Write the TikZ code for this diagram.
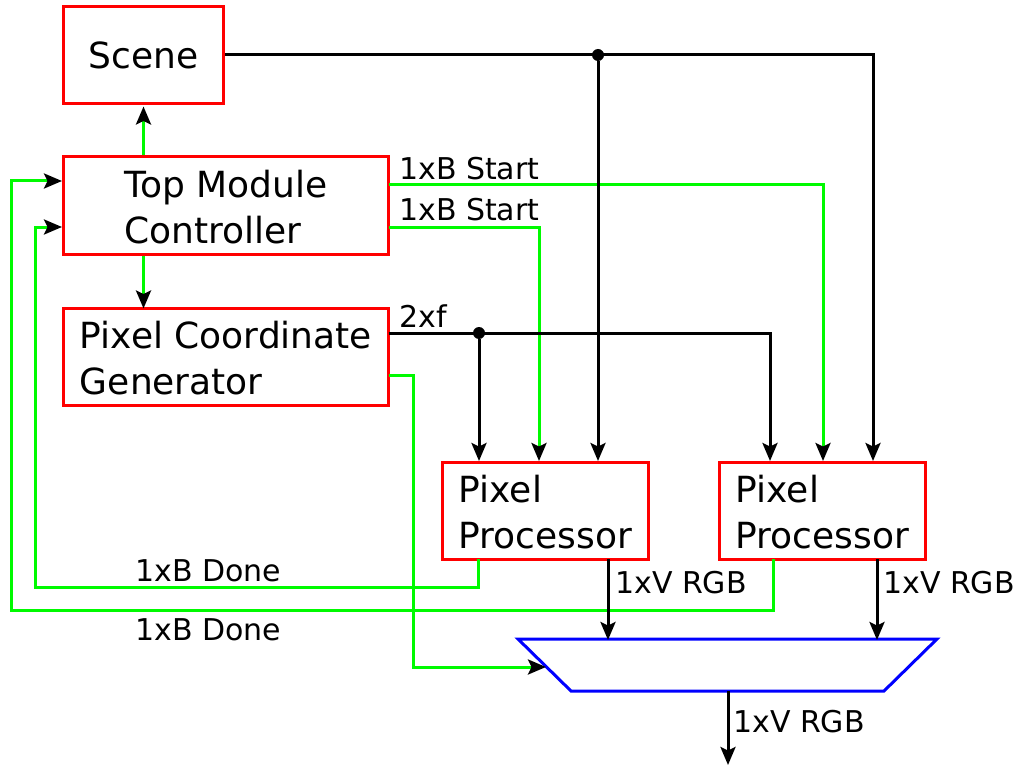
\documentclass[tikz,border=0pt]{standalone}
\usepackage{fontspec}
\setmainfont{DejaVu Sans}
\usetikzlibrary{arrows.meta}
\definecolor{gr}{RGB}{0,250,0}
\definecolor{rd}{RGB}{255,0,0}
\definecolor{bl}{RGB}{0,0,255}
\begin{document}
\begin{tikzpicture}[x=1pt,y=-1pt,
  box/.style={draw=rd, line width=3pt, fill=white, inner sep=0pt, align=left,
    font=\fontsize{36}{46}\selectfont},
  lbl/.style={font=\fontsize{30}{36}\selectfont, inner sep=0pt, anchor=base west},
  wire/.style={line width=3pt, draw=black},
  gwire/.style={line width=3pt, draw=gr},
  arr/.style={-{Stealth[length=18pt,width=15pt,inset=3.5pt,black]}},
  jdot/.style={circle, fill=black, inner sep=0pt, minimum size=12pt}]
\useasboundingbox (0,0) rectangle (1018,765);

% boxes
\node[box, minimum width=160pt, minimum height=97pt] (scene) at (143.5,55) {Scene};
\node[box, minimum width=325pt, minimum height=97pt] (tmc) at (226,205.5) {\rule{0pt}{30pt}Top Module\\Controller};
\node[box, minimum width=325pt, minimum height=97pt] (pcg) at (226,357) {\rule{0pt}{30pt}Pixel Coordinate\\Generator};
\node[box, minimum width=206pt, minimum height=97pt] (pp1) at (545.5,510.5) {\rule{0pt}{30pt}Pixel\\Processor};
\node[box, minimum width=206pt, minimum height=97pt] (pp2) at (822.5,510.5) {\rule{0pt}{30pt}Pixel\\Processor};

% mux
\coordinate (m1) at (518,639);
\coordinate (m2) at (937,639);
\coordinate (m3) at (884,691);
\coordinate (m4) at (571,691);
\draw[bl, line width=3pt, line join=miter] (m1)--(m2)--(m3)--(m4)--cycle;
\coordinate (muxin) at (546,667);
\coordinate (muxout) at (728,691);
\coordinate (outend) at (728,765);

% port coordinates
\coordinate (tA) at (388.5,185);
\coordinate (tB) at (388.5,227);
\coordinate (tL1) at (62,181);
\coordinate (tL2) at (62,227);
\coordinate (pA) at (388.5,333);
\coordinate (pB) at (388.5,375);
\coordinate (b11) at (479,461);
\coordinate (b12) at (539,461);
\coordinate (b13) at (598,461);
\coordinate (b21) at (770,461);
\coordinate (b22) at (823,461);
\coordinate (b23) at (873,461);
\coordinate (o11) at (478,559);
\coordinate (o12) at (608,559);
\coordinate (o21) at (773,559);
\coordinate (o22) at (877,559);
\coordinate (c1) at (413,375);
\coordinate (c2) at (35,587);
\coordinate (c3) at (11,610);

% green control wires
\draw[gwire, arr] (tmc.north -| scene.south) -- ([yshift=-1.5pt]scene.south);
\draw[gwire, arr] (tmc.south -| scene.south) -- ([yshift=-1.5pt]pcg.north -| scene.south);
\draw[gwire, arr] (tA) -| (b22);
\draw[gwire, arr] (tB) -| (b12);
\draw[gwire, arr] (pB) -- (c1) |- (muxin);
\draw[gwire, arr] (o11) |- (c2) |- (tL2);
\draw[gwire, arr] (o21) |- (c3) |- (tL1);

% black data wires
\node[jdot] (j1) at (598,55) {};
\node[jdot] (j2) at (479,333) {};
\draw[wire, arr] (scene.east) -| (b23);
\draw[wire, arr] (j1) -- (b13);
\draw[wire, arr] (pA) -| (b21);
\draw[wire, arr] (j2) -- (b11);
\draw[wire, arr] (o12) -- ([yshift=-1pt]o12 |- m1);
\draw[wire, arr] (o22) -- ([yshift=-1pt]o22 |- m1);
\draw[wire, arr] (muxout) -- (outend);

% labels
\node[lbl] (s1) at (399,179) {1xB Start};
\node[lbl] (s2) at (399,220) {1xB Start};
\node[lbl] (f) at (399,327) {2xf};
\node[lbl] (d1) at (135,581) {1xB Done};
\node[lbl] (d2) at (135,640) {1xB Done};
\node[lbl] (r1) at (615,593) {1xV RGB};
\node[lbl] (r2) at (883,593) {1xV RGB};
\node[lbl] (r3) at (733,732) {1xV RGB};
\end{tikzpicture}
\end{document}
